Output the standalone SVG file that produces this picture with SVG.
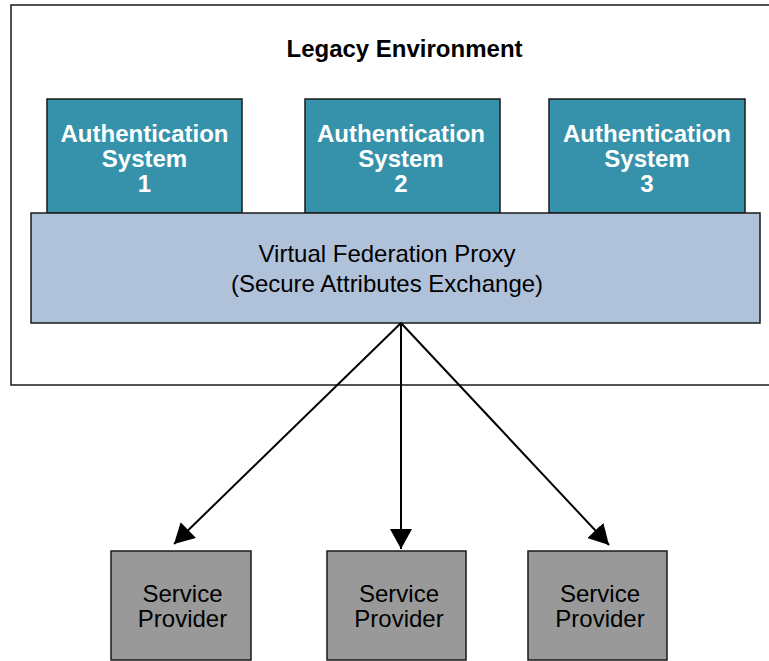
<svg xmlns="http://www.w3.org/2000/svg" width="769" height="661" viewBox="0 0 769 661">
  <style>
    .auth rect { fill: #3592aa; stroke: #1a1a1a; stroke-width: 1.5; }
    .auth text { fill: #ffffff; font-family: "Liberation Sans", Arial, sans-serif; font-weight: bold; font-size: 24px; text-anchor: middle; }
    .proxy rect { fill: #b0c2da; stroke: #1a1a1a; stroke-width: 1.5; }
    .sp rect { fill: #999999; stroke: #1a1a1a; stroke-width: 1.5; }
    .lbl { fill: #000000; font-family: "Liberation Sans", Arial, sans-serif; font-size: 24px; text-anchor: middle; }
    .conn line { stroke: #000000; stroke-width: 2; }
  </style>
  <defs>
    <marker id="arrow" markerWidth="20" markerHeight="22" refX="20" refY="11" orient="auto" markerUnits="userSpaceOnUse" viewBox="0 0 20 22">
      <path d="M0,0 L20,11 L0,22 z" fill="#000000"/>
    </marker>
  </defs>
  <rect width="769" height="661" fill="#ffffff"/>
  <g id="legacy">
    <rect x="11" y="5" width="770" height="380" fill="none" stroke="#1a1a1a" stroke-width="1.5"/>
    <text x="404.5" y="57" style="font-family:'Liberation Sans', Arial, sans-serif; font-weight:bold; font-size:24px; text-anchor:middle;">Legacy Environment</text>
  </g>
  <g id="auth1" class="auth">
    <rect x="47" y="99" width="195" height="114"/>
    <text x="144.5" y="142">Authentication</text>
    <text x="144.5" y="167">System</text>
    <text x="144.5" y="192">1</text>
  </g>
  <g id="auth2" class="auth">
    <rect x="305" y="99" width="195" height="114"/>
    <text x="401" y="142">Authentication</text>
    <text x="401" y="167">System</text>
    <text x="401" y="192">2</text>
  </g>
  <g id="auth3" class="auth">
    <rect x="549" y="99" width="196" height="114"/>
    <text x="647" y="142">Authentication</text>
    <text x="647" y="167">System</text>
    <text x="647" y="192">3</text>
  </g>
  <g id="proxy" class="proxy">
    <rect x="31" y="213" width="729" height="110"/>
    <text class="lbl" x="387" y="262">Virtual Federation Proxy</text>
    <text class="lbl" x="387" y="292">(Secure Attributes Exchange)</text>
  </g>
  <g id="connectors" class="conn">
    <line x1="401" y1="323" x2="174" y2="544" marker-end="url(#arrow)"/>
    <line x1="401" y1="323" x2="401" y2="549" marker-end="url(#arrow)"/>
    <line x1="401" y1="323" x2="609" y2="545" marker-end="url(#arrow)"/>
  </g>
  <g id="sp1" class="sp">
    <rect x="111" y="551" width="140" height="109"/>
    <text class="lbl" x="182.5" y="602">Service</text>
    <text class="lbl" x="182.5" y="627">Provider</text>
  </g>
  <g id="sp2" class="sp">
    <rect x="327" y="551" width="139" height="109"/>
    <text class="lbl" x="399" y="602">Service</text>
    <text class="lbl" x="399" y="627">Provider</text>
  </g>
  <g id="sp3" class="sp">
    <rect x="528" y="551" width="139" height="109"/>
    <text class="lbl" x="600" y="602">Service</text>
    <text class="lbl" x="600" y="627">Provider</text>
  </g>
</svg>
